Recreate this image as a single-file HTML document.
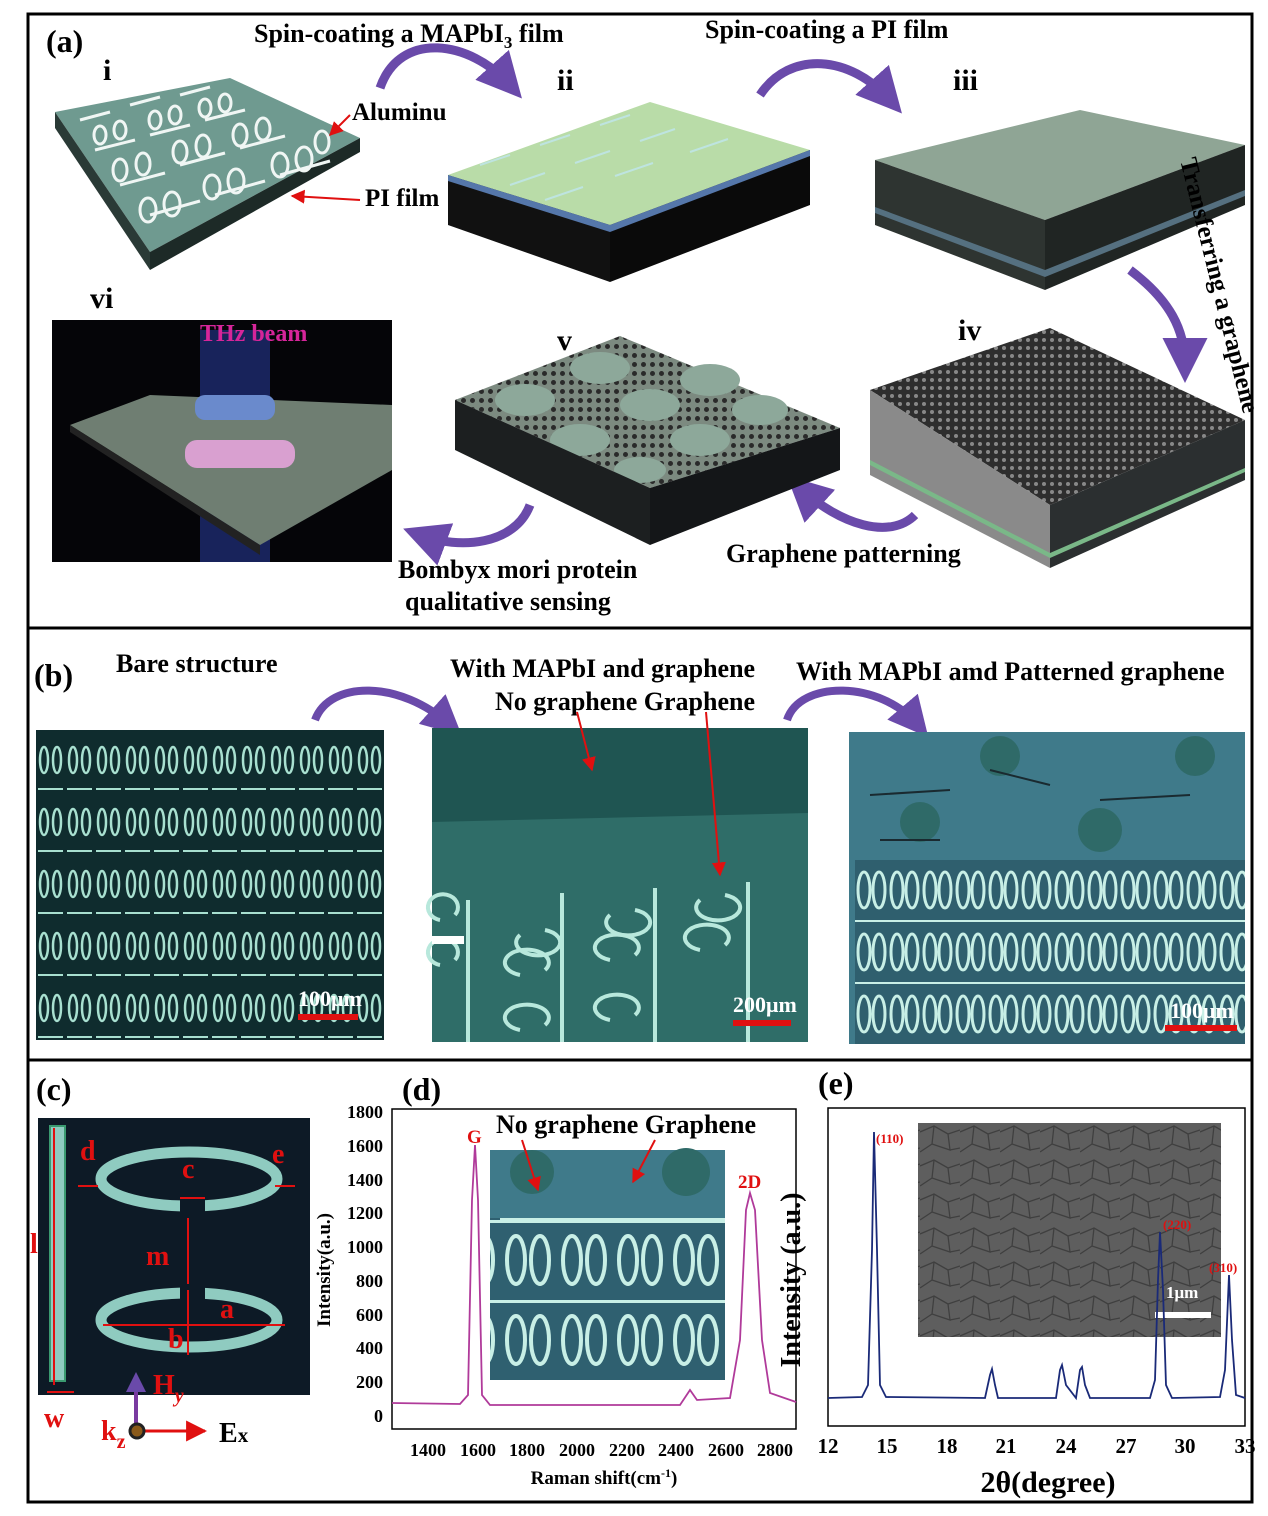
<!DOCTYPE html>
<html><head><meta charset="utf-8"><style>
body{margin:0;background:#fff}
svg{display:block}
text{font-family:"Liberation Serif",serif;font-weight:bold}
</style></head><body>
<svg width="1268" height="1516" viewBox="0 0 1268 1516" xmlns="http://www.w3.org/2000/svg">
<defs>
<pattern id="rb" x="36" y="730" width="29" height="62" patternUnits="userSpaceOnUse">
<rect width="29" height="62" fill="#0f2c2e"/>
<ellipse cx="8" cy="30" rx="4" ry="13" fill="none" stroke="#a8e0d0" stroke-width="2.5"/>
<ellipse cx="21" cy="30" rx="4" ry="13" fill="none" stroke="#a8e0d0" stroke-width="2.5"/>
<rect x="2" y="58" width="25" height="2" fill="#a8e0d0"/>
</pattern>
<pattern id="rr" x="855" y="860" width="33" height="62" patternUnits="userSpaceOnUse">
<rect width="33" height="62" fill="#2f5f6e"/>
<ellipse cx="9" cy="30" rx="6" ry="18" fill="none" stroke="#c8efe6" stroke-width="3"/>
<ellipse cx="24" cy="30" rx="6" ry="18" fill="none" stroke="#c8efe6" stroke-width="3"/>
<rect x="0" y="60" width="33" height="2" fill="#c8efe6"/>
</pattern>
<pattern id="rd" x="500" y="1220" width="56" height="80" patternUnits="userSpaceOnUse">
<rect width="56" height="80" fill="#2f6070"/>
<ellipse cx="16" cy="40" rx="9" ry="24" fill="none" stroke="#c8efe6" stroke-width="4"/>
<ellipse cx="40" cy="40" rx="9" ry="24" fill="none" stroke="#c8efe6" stroke-width="4"/>
<rect x="0" y="0" width="56" height="3" fill="#c8efe6"/>
</pattern>
<pattern id="gr" width="8" height="8" patternUnits="userSpaceOnUse">
<rect width="8" height="8" fill="#2e2e2e"/><circle cx="4" cy="4" r="2" fill="#888"/>
</pattern>
<pattern id="gr2" width="9" height="9" patternUnits="userSpaceOnUse">
<rect width="9" height="9" fill="#7c8a80"/><circle cx="4.5" cy="4.5" r="2.5" fill="#2a2a2a"/>
</pattern>
<pattern id="sem" width="40" height="34" patternUnits="userSpaceOnUse">
<rect width="40" height="34" fill="#5e5e5e"/><path d="M0 10 L14 4 L28 12 L40 8 M14 4 L12 22 L0 30 M12 22 L30 28 L28 12 M30 28 L40 26" stroke="#3f3f3f" stroke-width="1.3" fill="none"/>
</pattern>
<marker id="ar" viewBox="0 0 10 10" refX="9" refY="5" markerWidth="7" markerHeight="7" orient="auto"><path d="M0 0L10 5L0 10z" fill="#e01010"/></marker>
<marker id="pa" viewBox="0 0 10 10" refX="6" refY="5" markerWidth="5" markerHeight="5" orient="auto"><path d="M0 0L10 5L0 10z" fill="#6a4aaa"/></marker>
</defs>

<rect x="28" y="14" width="1224" height="1488" fill="none" stroke="#000" stroke-width="3"/>
<line x1="28" y1="628" x2="1252" y2="628" stroke="#000" stroke-width="3"/>
<line x1="28" y1="1060" x2="1252" y2="1060" stroke="#000" stroke-width="3"/>

<!-- (a) -->
<text x="46" y="52" font-size="32">(a)</text>
<text x="254" y="42" font-size="26">Spin-coating a MAPbI<tspan font-size="17" dy="6">3</tspan><tspan dy="-6"> film</tspan></text>
<text x="705" y="38" font-size="26">Spin-coating a  PI film</text>
<text x="103" y="80" font-size="30">i</text>
<text x="557" y="90" font-size="30">ii</text>
<text x="953" y="90" font-size="30">iii</text>
<text x="958" y="340" font-size="30">iv</text>
<text x="557" y="350" font-size="30">v</text>
<text x="90" y="308" font-size="30">vi</text>
<path d="M380 88 C400 30 470 40 510 85" stroke="#6a4aaa" stroke-width="9" fill="none" marker-end="url(#pa)"/>
<path d="M760 95 C790 50 850 55 890 100" stroke="#6a4aaa" stroke-width="9" fill="none" marker-end="url(#pa)"/>
<path d="M1130 270 C1170 300 1185 330 1185 365" stroke="#6a4aaa" stroke-width="9" fill="none" marker-end="url(#pa)"/>
<path d="M915 515 C890 540 840 525 800 488" stroke="#6a4aaa" stroke-width="9" fill="none" marker-end="url(#pa)"/>
<path d="M530 505 C515 545 460 550 420 535" stroke="#6a4aaa" stroke-width="9" fill="none" marker-end="url(#pa)"/>

<!-- i -->
<polygon points="55,112 230,78 360,138 150,252 " fill="#6f9a90"/>
<polygon points="55,112 150,252 150,270 55,128" fill="#2a3a36"/>
<polygon points="150,252 360,138 360,152 150,270" fill="#1d2a27"/>
<g stroke="#f0f6f4" stroke-width="3" fill="none">
<path d="M80 120 l30 -8 M130 105 l30 -8 M180 95 l30 -8 M95 150 l40 -10 M150 135 l40 -10 M205 120 l40 -10 M120 185 l45 -12 M180 165 l45 -12 M240 148 l45 -12 M150 215 l50 -14 M215 195 l50 -14 M280 175 l50 -14"/>
<ellipse cx="100" cy="135" rx="6" ry="9"/><ellipse cx="120" cy="130" rx="6" ry="9"/>
<ellipse cx="155" cy="120" rx="6" ry="9"/><ellipse cx="175" cy="115" rx="6" ry="9"/>
<ellipse cx="205" cy="108" rx="6" ry="9"/><ellipse cx="225" cy="103" rx="6" ry="9"/>
<ellipse cx="120" cy="170" rx="7" ry="11"/><ellipse cx="143" cy="164" rx="7" ry="11"/>
<ellipse cx="180" cy="152" rx="7" ry="11"/><ellipse cx="203" cy="146" rx="7" ry="11"/>
<ellipse cx="240" cy="135" rx="7" ry="11"/><ellipse cx="263" cy="129" rx="7" ry="11"/>
<ellipse cx="148" cy="210" rx="8" ry="12"/><ellipse cx="172" cy="204" rx="8" ry="12"/>
<ellipse cx="212" cy="187" rx="8" ry="12"/><ellipse cx="236" cy="181" rx="8" ry="12"/>
<ellipse cx="280" cy="165" rx="8" ry="12"/><ellipse cx="304" cy="159" rx="8" ry="12"/>
<ellipse cx="322" cy="142" rx="7" ry="11"/>
</g>
<text x="352" y="120" font-size="25">Aluminu</text>
<line x1="350" y1="115" x2="330" y2="135" stroke="#e01010" stroke-width="2" marker-end="url(#ar)"/>
<text x="365" y="206" font-size="25">PI film</text>
<line x1="360" y1="200" x2="292" y2="196" stroke="#e01010" stroke-width="2" marker-end="url(#ar)"/>

<!-- ii -->
<polygon points="448,175 650,102 810,150 610,225" fill="#b9dca8"/>
<polygon points="448,175 610,225 610,282 448,225" fill="#111"/>
<polygon points="610,225 810,150 810,205 610,282" fill="#0a0a0a"/>
<polygon points="448,175 610,225 810,150 810,156 610,232 448,181" fill="#5577aa"/>
<g stroke="#bfe6ee" stroke-width="2" fill="none" opacity="0.8">
<path d="M480 165 l30 -10 M540 145 l30 -10 M600 125 l30 -10 M510 185 l35 -12 M575 163 l35 -12 M640 141 l35 -12 M545 200 l38 -13 M615 176 l38 -13 M690 152 l38 -13"/>
</g>

<!-- iii -->
<polygon points="875,160 1080,110 1245,145 1045,220" fill="#8fa595"/>
<polygon points="875,160 1045,220 1045,290 875,225" fill="#2e3431"/>
<polygon points="1045,220 1245,145 1245,205 1045,290" fill="#202523"/>
<polygon points="875,207 1045,270 1245,190 1245,196 1045,277 875,213" fill="#557080"/>
<text x="1180" y="160" font-size="25" transform="rotate(76 1180 160)">Transferring a graphene</text>

<!-- iv -->
<polygon points="870,390 1050,328 1245,420 1050,505" fill="url(#gr)"/>
<polygon points="870,390 1050,505 1050,568 870,475" fill="#8a8a8a"/>
<polygon points="1050,505 1245,420 1245,480 1050,568" fill="#2b2f30"/>
<polygon points="870,460 1050,553 1245,468 1245,472 1050,558 870,465" fill="#7ab888"/>

<!-- v -->
<polygon points="455,400 620,336 840,428 650,488" fill="url(#gr2)"/>
<g fill="#8da89a">
<ellipse cx="525" cy="400" rx="30" ry="16"/><ellipse cx="600" cy="368" rx="30" ry="16"/>
<ellipse cx="580" cy="440" rx="30" ry="16"/><ellipse cx="650" cy="405" rx="30" ry="16"/>
<ellipse cx="710" cy="380" rx="30" ry="16"/><ellipse cx="700" cy="440" rx="30" ry="16"/>
<ellipse cx="760" cy="410" rx="28" ry="15"/><ellipse cx="640" cy="470" rx="26" ry="13"/>
</g>
<polygon points="455,400 650,488 650,545 455,450" fill="#1c1f20"/>
<polygon points="650,488 840,428 840,470 650,545" fill="#141618"/>

<!-- vi -->
<rect x="52" y="320" width="340" height="242" fill="#050508"/>
<rect x="200" y="330" width="70" height="232" fill="#1d2a70" opacity="0.8"/>
<polygon points="70,425 150,395 392,405 392,470 260,545" fill="#6f7e72"/>
<polygon points="70,425 260,545 260,555 70,432" fill="#222"/>
<rect x="185" y="440" width="110" height="28" rx="12" fill="#d9a0d0"/>
<rect x="195" y="395" width="80" height="25" rx="10" fill="#6a8acc"/>
<text x="200" y="341" font-size="24" fill="#d6259a">THz beam</text>

<text x="398" y="578" font-size="26">Bombyx mori protein</text>
<text x="405" y="610" font-size="26">qualitative sensing</text>
<text x="726" y="562" font-size="26">Graphene patterning</text>

<!-- (b) -->
<text x="34" y="686" font-size="32">(b)</text>
<text x="116" y="672" font-size="26">Bare structure</text>
<text x="450" y="677" font-size="26">With  MAPbI and graphene</text>
<text x="495" y="710" font-size="26">No graphene   Graphene</text>
<text x="796" y="680" font-size="26">With  MAPbI  amd Patterned graphene</text>
<path d="M315 720 C330 680 400 680 450 725" stroke="#6a4aaa" stroke-width="8" fill="none" marker-end="url(#pa)"/>
<path d="M787 720 C800 680 880 680 918 725" stroke="#6a4aaa" stroke-width="8" fill="none" marker-end="url(#pa)"/>
<rect x="36" y="730" width="348" height="310" fill="url(#rb)"/>
<text x="298" y="1006" font-size="22" fill="#fff">100μm</text>
<rect x="298" y="1014" width="60" height="6" fill="#e01010"/>

<rect x="432" y="728" width="376" height="314" fill="#2f6d68"/>
<polygon points="432,728 808,728 808,813 432,822" fill="#1f5552"/>
<g stroke="#b8e8dc" stroke-width="4" fill="none">
<line x1="468" y1="900" x2="468" y2="1042"/><line x1="562" y1="893" x2="562" y2="1042"/>
<line x1="655" y1="888" x2="655" y2="1042"/><line x1="748" y1="882" x2="748" y2="1042"/>
<path d="M520 935 a22 13 0 1 0 25 -5"/><path d="M520 975 a22 13 0 1 1 25 -5"/>
<path d="M610 915 a22 13 0 1 0 25 -5"/><path d="M610 960 a22 13 0 1 1 25 -5"/>
<path d="M700 900 a22 13 0 1 0 25 -5"/><path d="M700 950 a22 13 0 1 1 25 -5"/>
<path d="M440 920 a15 13 0 1 1 15 -5"/><path d="M440 965 a15 13 0 1 1 15 -5"/>
<path d="M520 1030 a22 13 0 1 1 25 -5"/><path d="M610 1020 a22 13 0 1 1 25 -5"/>
</g>
<rect x="432" y="936" width="32" height="8" fill="#fff"/>
<line x1="577" y1="712" x2="592" y2="770" stroke="#e01010" stroke-width="2" marker-end="url(#ar)"/>
<line x1="706" y1="712" x2="720" y2="875" stroke="#e01010" stroke-width="2" marker-end="url(#ar)"/>
<text x="733" y="1012" font-size="22" fill="#fff">200μm</text>
<rect x="733" y="1020" width="58" height="6" fill="#e01010"/>

<rect x="849" y="732" width="396" height="312" fill="#3f7a8a"/>
<g fill="#2f6a68"><circle cx="1000" cy="756" r="20"/><circle cx="1195" cy="756" r="20"/><circle cx="920" cy="822" r="20"/><circle cx="1100" cy="830" r="22"/></g>
<path d="M870 795 l80 -5 M990 770 l60 15 M1100 800 l90 -5 M880 840 l60 0" stroke="#1a2a30" stroke-width="2"/>
<rect x="855" y="860" width="390" height="184" fill="url(#rr)"/>
<text x="1170" y="1018" font-size="22" fill="#fff">100μm</text>
<rect x="1165" y="1025" width="72" height="6" fill="#e01010"/>

<!-- (c) -->
<text x="36" y="1100" font-size="32">(c)</text>
<rect x="38" y="1118" width="272" height="277" fill="#0d1a26"/>
<rect x="50" y="1126" width="15" height="255" fill="#8fcbc0" stroke="#3a9a70" stroke-width="2"/>
<ellipse cx="189" cy="1179" rx="88" ry="27" fill="none" stroke="#8fcbc0" stroke-width="11"/>
<ellipse cx="189" cy="1320" rx="88" ry="27" fill="none" stroke="#8fcbc0" stroke-width="11"/>
<rect x="180" y="1198" width="25" height="15" fill="#0d1a26"/>
<rect x="180" y="1286" width="25" height="15" fill="#0d1a26"/>
<g stroke="#e01010" stroke-width="2" fill="none">
<line x1="54" y1="1128" x2="54" y2="1385"/>
<line x1="188" y1="1218" x2="188" y2="1284"/>
<line x1="103" y1="1325" x2="285" y2="1325"/>
<line x1="188" y1="1290" x2="188" y2="1355"/>
<line x1="78" y1="1186" x2="98" y2="1186"/><line x1="275" y1="1186" x2="295" y2="1186"/>
<line x1="180" y1="1198" x2="205" y2="1198"/><line x1="47" y1="1392" x2="74" y2="1392"/>
</g>
<g fill="#e01010" font-size="28">
<text x="30" y="1253">l</text><text x="80" y="1160">d</text><text x="182" y="1178">c</text><text x="272" y="1163">e</text>
<text x="146" y="1265">m</text><text x="220" y="1318">a</text><text x="168" y="1348">b</text><text x="44" y="1427">w</text>
<text x="153" y="1394">H<tspan font-size="20" dy="8" font-style="italic">y</tspan></text>
<text x="101" y="1440">k<tspan font-size="20" dy="8">z</tspan></text>
</g>
<line x1="136" y1="1430" x2="136" y2="1380" stroke="#7a3aa0" stroke-width="4" marker-end="url(#pa)"/>
<line x1="140" y1="1431" x2="205" y2="1431" stroke="#e01010" stroke-width="3" marker-end="url(#ar)"/>
<circle cx="137" cy="1431" r="7" fill="#8a5a1a" stroke="#222" stroke-width="3"/>
<text x="219" y="1442" font-size="28">E<tspan font-size="21">x</tspan></text>

<!-- (d) -->
<text x="402" y="1100" font-size="32">(d)</text>
<rect x="392" y="1109" width="404" height="320" fill="none" stroke="#000" stroke-width="1.5"/>
<g font-size="18" text-anchor="end">
<text x="383" y="1118">1800</text><text x="383" y="1152">1600</text><text x="383" y="1186">1400</text><text x="383" y="1219">1200</text>
<text x="383" y="1253">1000</text><text x="383" y="1287">800</text><text x="383" y="1321">600</text><text x="383" y="1354">400</text>
<text x="383" y="1388">200</text><text x="383" y="1422">0</text>
</g>
<g font-size="18" text-anchor="middle">
<text x="428" y="1456">1400</text><text x="478" y="1456">1600</text><text x="527" y="1456">1800</text><text x="577" y="1456">2000</text>
<text x="627" y="1456">2200</text><text x="676" y="1456">2400</text><text x="726" y="1456">2600</text><text x="775" y="1456">2800</text>
</g>
<text x="604" y="1484" font-size="19" text-anchor="middle">Raman shift(cm<tspan font-size="12" dy="-7">-1</tspan><tspan dy="7">)</tspan></text>
<text x="330" y="1270" font-size="19" text-anchor="middle" transform="rotate(-90 330 1270)">Intensity(a.u.)</text>
<path d="M392 1403 L460 1404 L468 1395 L472 1200 L475 1145 L478 1200 L482 1395 L490 1405 L680 1405 L690 1390 L697 1400 L730 1398 L740 1340 L746 1210 L750 1193 L755 1210 L762 1340 L770 1393 L796 1402" stroke="#b03a9a" stroke-width="1.8" fill="none"/>
<rect x="490" y="1150" width="235" height="230" fill="url(#rd)"/>
<rect x="490" y="1150" width="235" height="68" fill="#3f7a8a"/>
<circle cx="532" cy="1172" r="22" fill="#2f6a68"/><circle cx="686" cy="1172" r="24" fill="#2f6a68"/>
<rect x="500" y="1218" width="225" height="3" fill="#c8efe6"/>
<text x="496" y="1133" font-size="26">No graphene  Graphene</text>
<line x1="522" y1="1140" x2="538" y2="1190" stroke="#e01010" stroke-width="2" marker-end="url(#ar)"/>
<line x1="655" y1="1140" x2="633" y2="1182" stroke="#e01010" stroke-width="2" marker-end="url(#ar)"/>
<text x="467" y="1143" font-size="19" fill="#e01010">G</text>
<text x="738" y="1188" font-size="19" fill="#e01010">2D</text>

<!-- (e) -->
<text x="818" y="1094" font-size="32">(e)</text>
<rect x="828" y="1108" width="417" height="318" fill="none" stroke="#000" stroke-width="1.5"/>
<g font-size="21" text-anchor="middle">
<text x="828" y="1453">12</text><text x="887" y="1453">15</text><text x="947" y="1453">18</text><text x="1006" y="1453">21</text>
<text x="1066" y="1453">24</text><text x="1126" y="1453">27</text><text x="1185" y="1453">30</text><text x="1245" y="1453">33</text>
</g>
<text x="1048" y="1492" font-size="30" text-anchor="middle">2θ(degree)</text>
<text x="800" y="1280" font-size="28" text-anchor="middle" transform="rotate(-90 800 1280)">Intensity (a.u.)</text>
<rect x="918" y="1123" width="303" height="214" fill="url(#sem)"/>
<rect x="1155" y="1312" width="56" height="6" fill="#fff"/>
<text x="1166" y="1298" font-size="17" fill="#fff" font-weight="normal">1μm</text>
<path d="M828 1398 L862 1397 L868 1385 L872 1250 L874 1132 L877 1250 L880 1385 L886 1397 L985 1398 L990 1375 L992 1369 L995 1385 L998 1398 L1056 1398 L1060 1370 L1062 1365 L1066 1385 L1076 1398 L1080 1370 L1082 1367 L1085 1385 L1090 1398 L1150 1398 L1155 1380 L1158 1280 L1160 1232 L1163 1290 L1166 1385 L1172 1398 L1220 1397 L1225 1370 L1229 1275 L1232 1340 L1236 1395 L1245 1398" stroke="#1a2a78" stroke-width="1.8" fill="none"/>
<g font-size="13" fill="#e01010"><text x="876" y="1143">(110)</text><text x="1163" y="1229">(220)</text><text x="1209" y="1272">(310)</text></g>
</svg>
</body></html>
